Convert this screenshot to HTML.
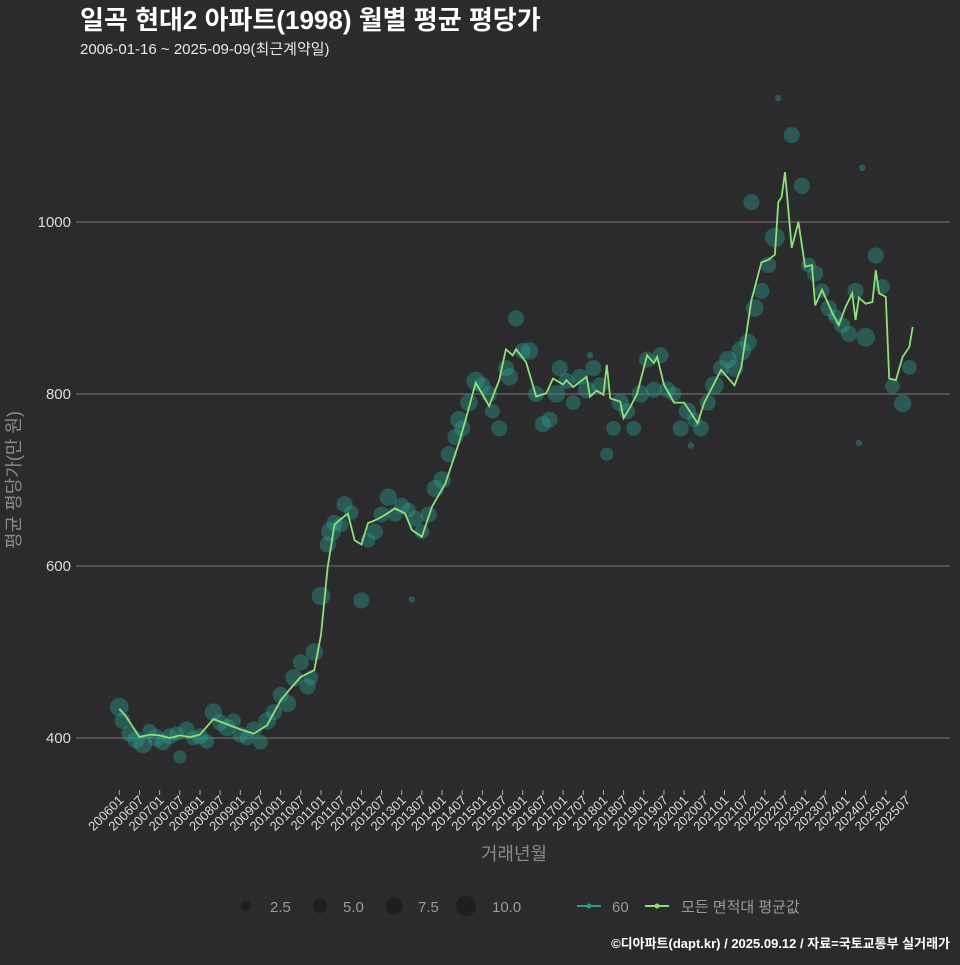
<!DOCTYPE html>
<html><head><meta charset="utf-8">
<style>
html,body{margin:0;padding:0;background:#2b2a2c;}
body{width:960px;height:960px;overflow:hidden;font-family:"Liberation Sans","Noto Sans CJK KR",sans-serif;}
svg text{font-family:"Liberation Sans","Noto Sans CJK KR",sans-serif;}
</style></head>
<body>
<svg id="chart" width="960" height="960" xmlns="http://www.w3.org/2000/svg">
<rect x="0" y="0" width="960" height="960" fill="#2b2a2c"/>
<text x="80" y="29" fill="#ffffff" font-size="26" font-weight="bold">일곡 현대2 아파트(1998) 월별 평균 평당가</text>
<text x="80" y="54" fill="#e8e8e8" font-size="15">2006-01-16 ~ 2025-09-09(최근계약일)</text>
<g id="grid"></g>
<g id="yaxis"></g>
<g id="xaxis"></g>
<g id="bubbles"></g>
<g id="lineg"></g>
<text transform="translate(20,480) rotate(-90)" text-anchor="middle" fill="#8a8a8a" font-size="18">평균 평당가(만 원)</text>
<text x="514" y="860" text-anchor="middle" fill="#8a8a8a" font-size="18">거래년월</text>
<g>
  <circle cx="246" cy="906" r="5" fill="#1e1d1f"/>
  <text x="270" y="912" fill="#9a9a9a" font-size="15">2.5</text>
  <circle cx="320" cy="906" r="7" fill="#1e1d1f"/>
  <text x="343" y="912" fill="#9a9a9a" font-size="15">5.0</text>
  <circle cx="394" cy="906" r="8.5" fill="#1e1d1f"/>
  <text x="418" y="912" fill="#9a9a9a" font-size="15">7.5</text>
  <circle cx="466" cy="906" r="10" fill="#1e1d1f"/>
  <text x="492" y="912" fill="#9a9a9a" font-size="15">10.0</text>
  <line x1="577" y1="906" x2="601" y2="906" stroke="#2a9d8f" stroke-width="2"/>
  <circle cx="589" cy="906" r="2.5" fill="#2a9d8f"/>
  <text x="612" y="912" fill="#9a9a9a" font-size="15">60</text>
  <line x1="645" y1="906" x2="669" y2="906" stroke="#8fe07a" stroke-width="2"/>
  <circle cx="657" cy="906" r="2.5" fill="#8fe07a"/>
  <text x="681" y="912" fill="#9a9a9a" font-size="15">모든 면적대 평균값</text>
</g>
<text x="950" y="948" text-anchor="end" fill="#ffffff" font-size="13" font-weight="bold">©디아파트(dapt.kr) / 2025.09.12 / 자료=국토교통부 실거래가</text>
</svg>
<script>
// months are offsets from 2006-01
const yTicks = [400, 600, 800, 1000];
const lineMonths = [0,2,6,9,12,15,18,21,24,28,32,36,40,44,48,51,54,56,58,60,62,64,66,68,70,72,74,76,78,80,82,85,87,90,93,97,101,103,106,108,110,113,115,117,118,121,124,127,129,132,133,135,139,140,142,144,145,146,149,150,152,154,157,159,160,162,165,168,172,174,179,183,185,188,191,193,195,196,197,198,200,202,204,206,207,209,212,214,216,218,219,220,222,224,225,226,228,229,231,232,233,235,236];
const lineValues = [434,425,401,404,403,400,403,401,404,422,416,410,405,415,444,458,471,475,479,520,599,648,655,661,630,625,650,653,657,662,667,661,642,634,669,696,743,770,813,800,786,816,852,845,852,837,797,801,818,811,816,808,820,797,804,799,834,795,791,772,785,800,845,836,843,811,790,790,766,790,828,810,831,909,953,956,962,1023,1029,1058,970,1000,948,950,903,921,895,880,901,917,886,912,905,907,944,917,913,818,816,830,843,855,878];
const bubbleMonths = [
  0,1,3,5,7,9,11,13,15,17,
  18,20,22,24,26,28,30,32,34,36,
  38,40,42,44,46,48,50,52,54,56,
  57,58,60,62,63,64,66,67,69,72,
  74,76,78,80,82,84,86,88,90,92,
  94,96,98,100,101,102,104,106,108,110,
  111,113,115,116,118,120,122,124,126,128,
  130,131,133,135,137,139,141,143,145,147,
  149,151,153,155,157,159,161,163,165,167,
  169,171,173,175,177,179,181,183,185,187,
  189,191,193,195,188,196,200,203,205,207,
  209,211,213,215,217,219,220,221,222,225,
  227,230,233,235,87,140,170,212];
const bubbleValues = [
  436,420,405,398,393,408,400,395,402,405,
  378,410,400,402,396,430,418,412,420,404,
  400,410,395,420,430,450,440,470,488,460,
  470,500,565,625,640,650,648,672,662,560,
  630,640,660,680,660,670,665,655,640,660,
  690,700,730,750,770,760,790,815,810,800,
  780,760,830,820,888,850,850,800,765,770,
  800,830,815,790,820,805,830,810,730,760,
  790,780,760,800,840,805,845,805,800,760,
  780,770,760,790,810,830,840,830,850,860,
  900,920,950,982,1023,1144,1101,1042,950,940,
  920,900,890,880,870,920,743,1063,866,961,
  925,809,789,831,561,845,740,890];
const bubbleSizes = [
  8,6,6,7,8,5,7,6,6,5,
  4,6,5,6,5,7,6,7,5,6,
  5,6,5,7,6,6,7,7,6,6,
  5,7,8,6,9,6,5,6,5,6,
  5,6,6,7,5,6,5,6,5,6,
  7,7,6,6,7,6,7,8,6,6,
  5,6,6,7,6,6,7,6,6,6,
  7,6,6,5,6,7,6,6,4,5,
  7,6,5,7,6,6,6,6,5,6,
  7,5,6,6,8,6,7,7,9,7,
  7,6,6,9,6,1,6,6,5,6,
  5,6,5,6,6,6,1,1,8,6,
  5,5,7,5,1,1,1,1];

const NS = 'http://www.w3.org/2000/svg';
const x = m => 119.3 + m * 3.362;
const y = v => 738 - (v - 400) * 0.86;

const grid = document.getElementById('grid');
const yaxis = document.getElementById('yaxis');
yTicks.forEach(t => {
  const gl = document.createElementNS(NS, 'line');
  
  
  gl.setAttribute('x1', 76); gl.setAttribute('x2', 950);
  gl.setAttribute('y1', y(t)); gl.setAttribute('y2', y(t));
  gl.setAttribute('stroke', '#5e5e60'); gl.setAttribute('stroke-width', '1.4');
  grid.appendChild(gl);
  const tx = document.createElementNS(NS, 'text');
  
  
  tx.setAttribute('x', 71); tx.setAttribute('y', y(t) + 5);
  tx.setAttribute('text-anchor', 'end'); tx.setAttribute('fill', '#dcdcdc');
  tx.setAttribute('font-size', '15');
  tx.textContent = t;
  yaxis.appendChild(tx);
});

const xaxis = document.getElementById('xaxis');
for (let m = 0; m <= 234; m += 6) {
  const yr = 2006 + Math.floor(m / 12), mo = (m % 12) + 1;
  const lab = '' + yr + (mo < 10 ? '0' : '') + mo;
  const tk = document.createElementNS(NS, 'line');
  
  
  tk.setAttribute('x1', x(m)); tk.setAttribute('x2', x(m));
  tk.setAttribute('y1', 790); tk.setAttribute('y2', 795);
  tk.setAttribute('stroke', '#aaaaaa');
  xaxis.appendChild(tk);
  const tx = document.createElementNS(NS, 'text');
  
  
  tx.setAttribute('transform', 'translate(' + (x(m) + 5) + ',801) rotate(-45)');
  tx.setAttribute('text-anchor', 'end'); tx.setAttribute('fill', '#dcdcdc');
  tx.setAttribute('font-size', '13');
  tx.textContent = lab;
  xaxis.appendChild(tx);
}

const bub = document.getElementById('bubbles');
bubbleMonths.forEach((m, i) => {
  const c = document.createElementNS(NS, 'circle');
  
  
  c.setAttribute('cx', x(m)); c.setAttribute('cy', y(bubbleValues[i]));
  c.setAttribute('r', Math.sqrt(bubbleSizes[i]) * 3.3);
  c.setAttribute('fill', 'rgba(42,157,143,0.42)');
  bub.appendChild(c);
});

const lg = document.getElementById('lineg');
const p = document.createElementNS(NS, 'path');


p.setAttribute('d', lineMonths.map((m, i) => (i ? 'L' : 'M') + x(m).toFixed(1) + ',' + y(lineValues[i]).toFixed(1)).join(' '));
p.setAttribute('fill', 'none'); p.setAttribute('stroke', '#8fe07a');
p.setAttribute('stroke-width', '1.8');
lg.appendChild(p);
</script>
</body></html>
